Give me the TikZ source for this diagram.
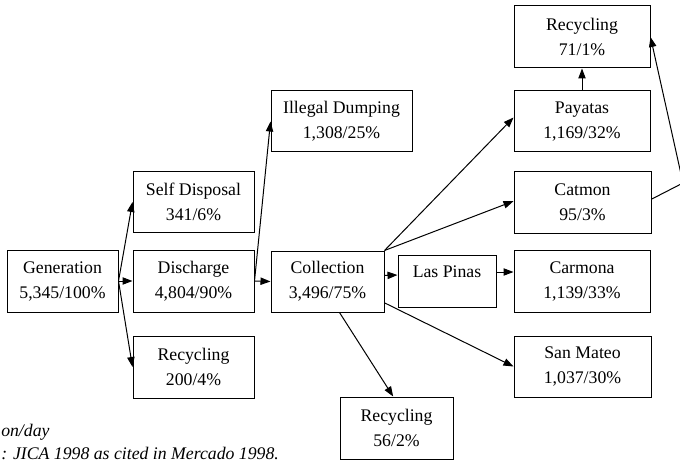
\documentclass[tikz,border=0pt]{standalone}
\usepackage{fontspec}
\setmainfont{Liberation Serif}
\usetikzlibrary{arrows.meta}
\begin{document}
\begin{tikzpicture}[x=0.75pt,y=-0.75pt,
  font=\fontsize{13.3}{18.75}\selectfont,
  box/.style={draw, line width=0.75pt, align=center, inner sep=0pt},
  sz/.style 2 args={minimum width=0.75*#1 pt, minimum height=0.75*#2 pt},
  arr/.style={line width=0.75pt, -{Triangle[length=7.5pt,width=5.5pt]}},
  note/.style={font=\fontsize{13.3}{18.75}\selectfont\itshape, inner sep=0pt}]
\useasboundingbox (0,0) rectangle (680,463);
\clip (0,0) rectangle (680,463);

\node[box, sz={111}{62}] (gen) at (62.5,281) {Generation\\5,345/100\%};
\node[box, sz={121}{62}] (dis) at (193.5,281) {Discharge\\4,804/90\%};
\node[box, sz={121}{60}] (self) at (193.5,202) {Self Disposal\\341/6\%};
\node[box, sz={121}{62}] (rec1) at (193.5,367) {Recycling\\200/4\%};
\node[box, sz={113}{61}] (col) at (327.5,281.5) {Collection\\3,496/75\%};
\node[box, sz={141}{61}] (ill) at (341.5,121.5) {Illegal Dumping\\1,308/25\%};
\node[box, sz={98}{52}, text height=10pt, text depth=15pt] (lp) at (447,281) {Las Pinas};
\node[box, sz={136}{61}] (pay) at (582,121.5) {Payatas\\1,169/32\%};
\node[box, sz={136}{62}] (rec71) at (582,37) {Recycling\\71/1\%};
\node[box, sz={137}{61}] (cat) at (582.5,202.5) {Catmon\\95/3\%};
\node[box, sz={136}{62}] (car) at (582,281) {Carmona\\1,139/33\%};
\node[box, sz={137}{61}] (sm) at (582.5,366.5) {San Mateo\\1,037/30\%};
\node[box, sz={113}{62}] (rec56) at (396.5,428) {Recycling\\56/2\%};

\coordinate (turn) at (683,183);

\node[note, anchor=base west] (unit) at (1,436) {on/day};
\node[note, anchor=base west] (src) at (1,459) {: JICA 1998 as cited in Mercado 1998.};

\draw[arr] (gen.east) -- (dis.west);
\draw[arr] (gen.east) -- (self.west);
\draw[arr] (gen.east) -- (rec1.west);
\draw[arr] (dis.east) -- (col.west);
\draw[arr] (dis.east) -- (ill.west);
\draw[arr] ([yshift=4.5pt]col.east) -- ([yshift=4.5pt]lp.west);
\draw[arr] ([yshift=6.75pt]lp.east) -- ([yshift=6.75pt]car.west);
\draw[arr] (col.north east) -- ([yshift=3pt]pay.west);
\draw[arr] (col.north east) -- ([yshift=1pt]cat.west);
\draw[arr] ([yshift=-16pt]col.east) -- (sm.west);
\draw[arr] ([xshift=9pt]col.south) -- ([xshift=-2.5pt]rec56.north);
\draw[arr] (pay.north) -- (rec71.south);
\draw[arr] ([yshift=2.5pt]cat.east) -- (turn) -- (rec71.east);
\end{tikzpicture}
\end{document}
